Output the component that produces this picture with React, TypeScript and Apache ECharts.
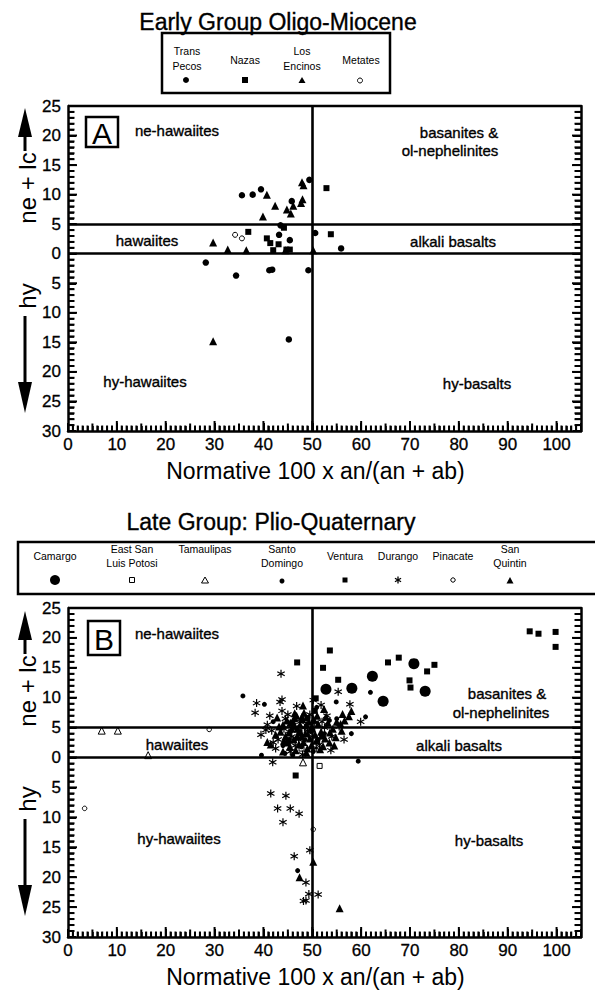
import { useEffect, useRef } from 'react';
import * as echarts from 'echarts';

const FONT = '"Liberation Sans", Arial, Helvetica, sans-serif';

// ---- axes ----
const xMin = 0;
const xMax = 105;
const xStep = 10;
const yMin = -30;
const yMax = 25;
const yStep = 5;
const dividerX = [50];
const dividerY = [5, 0];
const xAxisTitle = 'Normative 100 x an/(an + ab)';

// ---- panel A: Early Group Oligo-Miocene ----
const titleA = 'Early Group Oligo-Miocene';
const transPecos: [number, number][] = [
  [35.6, 9.9], [37.8, 10.0], [39.5, 10.9], [49.4, 12.5], [45.8, 8.9], [43.5, 4.8],
  [43.2, 3.2], [45.4, 2.3], [50.6, 3.5], [55.9, 0.9], [28.2, -1.5], [34.4, -3.7],
  [41.2, -2.8], [41.8, -2.7], [49.2, -2.8], [45.2, -14.5],
];
const nazas: [number, number][] = [
  [52.9, 11.1], [36.9, 3.7], [40.7, 2.6], [41.4, 1.8], [43.1, 1.6], [42.0, 0.6],
  [44.7, 0.7], [45.4, 0.7], [53.8, 3.3], [44.2, 4.4],
];
const losEncinos: [number, number][] = [
  [40.7, 10.0], [47.9, 12.1], [48.2, 11.6], [42.4, 8.1], [44.8, 7.5], [45.6, 6.8],
  [46.1, 8.1], [48.0, 9.2], [47.7, 8.6], [39.9, 6.3], [29.7, 1.9], [32.7, 0.7],
  [36.5, 0.6], [44.5, 0.6], [50.2, 0.6], [29.7, -14.8],
];
const metates: [number, number][] = [[34.2, 3.2], [35.6, 2.6]];

// ---- panel B: Late Group Plio-Quaternary ----
const titleB = 'Late Group: Plio-Quaternary';
const camargo: [number, number][] = [
  [52.8, 11.4], [58.1, 11.6], [62.3, 13.6], [64.5, 9.4], [70.8, 15.7], [73.1, 11.1],
];
const eastSanLuisPotosi: [number, number][] = [[51.5, -1.4], [47.8, 1.5], [45.0, 3.8]];
const tamaulipas: [number, number][] = [[6.9, 4.5], [10.2, 4.5], [16.4, 0.4], [48.1, -0.8]];
const santoDomingo: [number, number][] = [
  [35.8, 10.3], [40.2, 8.9], [61.9, 10.9], [54.9, 9.3], [60.9, 6.8], [58.0, 4.0],
  [59.4, -0.6], [39.6, 0.4], [44.4, 0.7], [47.0, -18.9], [50.9, 8.4], [42.0, 6.0],
  [46.5, 5.0], [52.5, 4.0], [53.5, 6.2], [50.2, 1.0], [55.0, 6.5], [48.5, 3.0], [44.0, 2.0],
  [45.6, 4.4], [47.8, 1.8], [49.6, 4.4], [51.2, 3.0], [46.0, 0.4],
];
const ventura: [number, number][] = [
  [46.9, 15.9], [53.6, 17.9], [52.2, 15.0], [55.3, 13.0], [65.5, 15.9], [67.7, 16.7],
  [69.9, 12.9], [70.1, 11.7], [73.5, 14.4], [75.0, 15.5], [50.7, 9.9], [94.5, 21.1],
  [96.3, 20.7], [99.8, 21.0], [99.8, 18.5], [46.6, -3.0], [45.1, 2.8], [50.5, 7.8], [52.0, 3.5],
  [47.4, 4.2], [49.0, 6.6],
];
const durango: [number, number][] = [
  [43.6, 14.0], [38.6, 9.1], [38.3, 7.5], [43.4, 9.3], [43.8, 9.7], [55.3, 11.0],
  [57.7, 8.9], [59.9, 6.0], [41.7, 4.5], [41.9, -0.8], [40.5, 4.6], [41.3, 7.0],
  [44.5, 6.5], [46.0, 5.5], [47.5, 6.0], [49.0, 4.5], [50.5, 5.8], [52.5, 5.0],
  [54.0, 3.5], [51.5, 2.2], [46.5, 2.0], [43.0, 3.0], [42.5, 1.5], [45.5, 1.0],
  [48.0, 0.5], [49.5, 7.2], [53.0, 7.0], [55.5, 5.2], [56.5, 3.0],
  [43.8, 7.8], [45.0, 7.2], [46.8, 8.6], [44.2, 4.8], [47.2, 3.0], [49.2, 3.8],
  [50.8, 1.6], [48.4, 5.0], [52.0, 6.0], [53.8, 1.2], [45.8, 3.5], [40.8, 5.5],
  [39.5, 3.8], [42.0, 2.5], [50.2, 9.6], [51.8, 8.8],
  [41.5, -6.0], [44.6, -6.4], [42.9, -8.5], [45.5, -8.5], [47.3, -9.4], [44.0, -10.8],
  [49.5, -15.5], [46.3, -16.5], [48.7, -20.9], [49.3, -22.8], [51.2, -22.9], [48.7, -23.9],
  [48.2, -24.0],
];
const pinacate: [number, number][] = [[3.4, -8.5], [28.9, 4.7], [50.2, -12.0]];
const sanQuintin: [number, number][] = [
  [48.1, 8.7], [40.8, 2.6], [47.4, -20.0], [50.2, -17.4], [55.6, -25.2], [57.5, 6.9],
  [58.0, 7.8], [52.4, 8.1], [56.2, 7.3], [42.8, 6.7], [46.4, 7.4], [48.0, 6.4], [52.2, 1.9],
  [44.0, 5.5], [45.2, 4.2], [46.0, 6.0], [47.0, 4.8], [47.8, 3.5], [48.8, 5.5], [49.5, 3.2],
  [50.0, 4.8], [51.2, 5.6], [51.8, 4.3], [53.2, 5.8], [54.2, 4.8], [55.0, 6.0], [53.5, 2.5],
  [46.2, 3.0], [44.5, 3.5], [43.5, 4.3], [45.5, 5.8], [47.3, 2.2], [49.0, 1.5], [50.8, 2.8],
  [52.8, 6.8], [41.5, 2.2], [54.5, 2.0], [56.0, 4.5], [48.3, 7.5], [46.8, 7.0], [51.0, 7.0],
  [47.5, 5.5], [45.0, 2.5],
  [44.8, 6.2], [45.8, 4.8], [46.3, 6.6], [46.9, 3.6], [47.6, 4.2], [48.2, 2.6], [48.6, 4.0],
  [49.3, 6.0], [49.8, 2.0], [45.4, 1.8], [44.2, 2.8], [43.2, 5.2], [42.5, 3.8], [50.6, 3.8],
  [51.6, 1.4], [52.6, 3.2], [53.6, 4.2], [54.8, 3.4], [55.8, 5.6], [56.6, 6.2], [46.6, 1.2],
  [48.8, 0.8], [47.9, 6.8], [50.3, 6.4], [44.0, 1.0], [49.9, 5.2],
];

// six-armed asterisk outline
const ASTERISK =
  'path://M57,100L43,100L43,62.12L10.2,81.06L3.2,68.94L36,50L3.2,31.06L10.2,18.94L43,37.88L43,0L57,0L57,37.88L89.8,18.94L96.8,31.06L64,50L96.8,68.94L89.8,81.06L57,62.12Z';

const GRIDS = [
  { left: 68, top: 106, width: 513, height: 325 },
  { left: 68, top: 608, width: 513, height: 329 },
];

// positions of the inward frame ticks (one per unit)
const unitTicksX: number[] = [];
for (let v = xMin + 1; v < xMax; v++) unitTicksX.push(v);
const unitTicksY: number[] = [];
for (let v = yMin + 1; v < yMax; v++) unitTicksY.push(v);

function font(size: number) {
  return `${size}px ${FONT}`;
}

function text(x: number, y: number, str: string, size: number, extra: any = {}) {
  return {
    type: 'text',
    x,
    y,
    silent: true,
    rotation: extra.rotation || 0,
    style: {
      text: str,
      fill: '#000',
      stroke: extra.heavy ? '#000' : undefined,
      lineWidth: extra.heavy ? 0.35 : 0,
      font: font(size),
      textAlign: 'center',
      textVerticalAlign: 'middle',
      align: 'center',
      verticalAlign: 'middle',
      lineHeight: extra.lineHeight,
    },
  };
}

function seg(x1: number, y1: number, x2: number, y2: number, w: number) {
  return { type: 'line', silent: true, z: 10, shape: { x1, y1, x2, y2 }, style: { stroke: '#000', lineWidth: w } };
}

function bar(x: number, y: number, w: number, h: number) {
  return { type: 'rect', silent: true, z: 10, shape: { x, y, width: w, height: h }, style: { fill: '#000' } };
}

function yAxisName(dy: number) {
  return [
    { type: 'polygon', silent: true, shape: { points: [[18, 137 + dy], [25, 108 + dy], [32, 137 + dy]] }, style: { fill: '#000' } },
    bar(23.5, 135 + dy, 3, 16),
    text(27, 188 + dy, 'ne + lc', 24, { rotation: Math.PI / 2 }),
    text(27, 296 + dy, 'hy', 24, { rotation: Math.PI / 2 }),
    bar(23.5, 316 + dy, 3, 68),
    { type: 'polygon', silent: true, shape: { points: [[18, 382 + dy], [25, 413 + dy], [32, 382 + dy]] }, style: { fill: '#000' } },
  ];
}

function letterBox(x: number, y: number, w: number, h: number, letter: string) {
  return [
    { type: 'rect', silent: true, shape: { x, y, width: w, height: h }, style: { fill: 'none', stroke: '#000', lineWidth: 2.5 } },
    text(x + w / 2, y + h / 2 + 1, letter, 30),
  ];
}

function asteriskMark(cx: number, cy: number, r: number) {
  const out: any[] = [];
  for (let k = 0; k < 3; k++) {
    const a = Math.PI / 2 + (k * Math.PI) / 3;
    out.push(seg(cx - r * Math.cos(a), cy - r * Math.sin(a), cx + r * Math.cos(a), cy + r * Math.sin(a), 1.3));
  }
  return out;
}

function scatter(name: string, data: [number, number][], g: number, symbol: string, size: number, filled: boolean) {
  return {
    type: 'scatter',
    name,
    data,
    xAxisIndex: g,
    yAxisIndex: g * 2,
    symbol,
    symbolSize: size,
    silent: true,
    z: 3,
    itemStyle: filled
      ? { color: '#000', opacity: 1 }
      : { color: '#fff', borderColor: '#000', borderWidth: 1, opacity: 1 },
  };
}

function dividers(g: number) {
  return {
    type: 'scatter',
    data: [],
    xAxisIndex: g,
    yAxisIndex: g * 2,
    silent: true,
    z: 2,
    markLine: {
      silent: true,
      symbol: 'none',
      label: { show: false },
      lineStyle: { color: '#000', width: 2.6, type: 'solid' },
      data: [...dividerX.map((v) => ({ xAxis: v })), ...dividerY.map((v) => ({ yAxis: v }))],
    },
  };
}

// inward tick marks along each frame, spaced on the same linear mapping as the axes
function frameTickElements() {
  const out: any[] = [];
  const W = 2;
  const bottomLen = (v: number) => (v % 10 === 0 ? 10 : v % 5 === 0 ? 7.5 : 5.5);
  const sideLen = (v: number) => (v % 5 === 0 ? 9 : 6.5);
  GRIDS.forEach((g) => {
    const px = (v: number) => g.left + ((v - xMin) / (xMax - xMin)) * g.width;
    const py = (v: number) => g.top + ((yMax - v) / (yMax - yMin)) * g.height;
    const bottom = g.top + g.height;
    const right = g.left + g.width;
    unitTicksX.forEach((v) => {
      const len = bottomLen(v);
      out.push(bar(px(v) - W / 2, bottom - len, W, len));
    });
    unitTicksY.forEach((v) => {
      const y = py(v);
      const len = sideLen(v);
      out.push(bar(g.left, y - W / 2, len, W));
      out.push(bar(right - len, y - W / 2, len, W));
    });
  });
  return out;
}

const LABEL_STYLE = {
  color: '#000',
  fontSize: 17,
  fontFamily: FONT,
  textBorderColor: '#000',
  textBorderWidth: 0.3,
};

function xAxis(g: number) {
  return {
    gridIndex: g,
    type: 'value',
    min: xMin,
    max: xMax,
    interval: xStep,
    position: 'bottom',
    axisLine: { show: true, onZero: false, lineStyle: { color: '#000', width: 2.5 } },
    axisTick: { show: true, inside: true, length: 8, lineStyle: { color: '#000', width: 2 } },
    minorTick: { show: true, splitNumber: 10, length: 5, lineStyle: { color: '#000', width: 1.6 } },
    splitLine: { show: false },
    axisLabel: {
      ...LABEL_STYLE,
      margin: 5,
      formatter: (v: number) => (v > 100 ? '' : String(v)),
    },
    name: xAxisTitle,
    nameLocation: 'middle',
    nameGap: 28,
    nameTextStyle: { color: '#000', fontSize: 23, fontFamily: FONT, padding: [0, 18, 0, 0] },
  };
}

function yAxis(g: number, side: 'left' | 'right') {
  return {
    gridIndex: g,
    type: 'value',
    min: yMin,
    max: yMax,
    interval: yStep,
    position: side,
    axisLine: { show: true, onZero: false, lineStyle: { color: '#000', width: 2.5 } },
    axisTick: { show: true, inside: true, length: 8, lineStyle: { color: '#000', width: 2 } },
    minorTick: { show: true, splitNumber: 5, length: 6, lineStyle: { color: '#000', width: 1.6 } },
    splitLine: { show: false },
    axisLabel: {
      ...LABEL_STYLE,
      show: side === 'left',
      margin: 7,
      formatter: (v: number) => String(Math.abs(v)),
    },
  };
}

function staticGraphics() {
  const H = { heavy: true };
  return [
    // titles
    text(278, 22, titleA, 23, H),
    text(271, 522, titleB, 23, H),

    // legend A
    { type: 'rect', silent: true, shape: { x: 162, y: 33, width: 228, height: 60 }, style: { fill: 'none', stroke: '#000', lineWidth: 2.5 } },
    text(187, 58, 'Trans\nPecos', 10.5, { lineHeight: 15 }),
    text(245, 60, 'Nazas', 10.5),
    text(302, 58, 'Los\nEncinos', 10.5, { lineHeight: 15 }),
    text(361, 60, 'Metates', 10.5),
    { type: 'circle', silent: true, shape: { cx: 186, cy: 80, r: 3 }, style: { fill: '#000' } },
    { type: 'rect', silent: true, shape: { x: 242, y: 77, width: 6, height: 6 }, style: { fill: '#000' } },
    { type: 'polygon', silent: true, shape: { points: [[298.5, 83], [302, 77], [305.5, 83]] }, style: { fill: '#000' } },
    { type: 'circle', silent: true, shape: { cx: 360, cy: 80.5, r: 2.5 }, style: { fill: '#fff', stroke: '#000', lineWidth: 1 } },

    // legend B
    { type: 'rect', silent: true, shape: { x: 18, y: 542, width: 600, height: 52 }, style: { fill: 'none', stroke: '#000', lineWidth: 2.5 } },
    text(55, 556, 'Camargo', 10.5),
    text(132, 556, 'East San\nLuis Potosi', 10.5, { lineHeight: 14 }),
    text(205, 549, 'Tamaulipas', 10.5),
    text(282, 556, 'Santo\nDomingo', 10.5, { lineHeight: 14 }),
    text(345, 556, 'Ventura', 10.5),
    text(398, 556, 'Durango', 10.5),
    text(453, 556, 'Pinacate', 10.5),
    text(510, 556, 'San\nQuintin', 10.5, { lineHeight: 14 }),
    { type: 'circle', silent: true, shape: { cx: 55, cy: 580, r: 5 }, style: { fill: '#000' } },
    { type: 'rect', silent: true, shape: { x: 129.5, y: 577.5, width: 5, height: 5 }, style: { fill: '#fff', stroke: '#000', lineWidth: 1 } },
    { type: 'polygon', silent: true, shape: { points: [[201.5, 583], [205, 577], [208.5, 583]] }, style: { fill: '#fff', stroke: '#000', lineWidth: 1 } },
    { type: 'circle', silent: true, shape: { cx: 282, cy: 581, r: 2.5 }, style: { fill: '#000' } },
    { type: 'rect', silent: true, shape: { x: 342.5, y: 577.5, width: 5, height: 5 }, style: { fill: '#000' } },
    ...asteriskMark(398, 580, 3.5),
    { type: 'circle', silent: true, shape: { cx: 453, cy: 580, r: 2.2 }, style: { fill: '#fff', stroke: '#000', lineWidth: 1 } },
    { type: 'polygon', silent: true, shape: { points: [[506.5, 583.5], [510, 577], [513.5, 583.5]] }, style: { fill: '#000' } },

    // panel letters
    ...letterBox(86, 117, 32, 30, 'A'),
    ...letterBox(88, 621, 32, 34, 'B'),

    // field names, panel A
    text(177, 130, 'ne-hawaiites', 15, H),
    text(147, 240, 'hawaiites', 15, H),
    text(145, 381, 'hy-hawaiites', 15, H),
    text(459, 132, 'basanites &', 15, H),
    text(450, 150, 'ol-nephelinites', 15, H),
    text(453, 241, 'alkali basalts', 15, H),
    text(477, 383, 'hy-basalts', 15, H),

    // field names, panel B
    text(177, 633, 'ne-hawaiites', 15, H),
    text(177, 744, 'hawaiites', 15, H),
    text(179, 838, 'hy-hawaiites', 15, H),
    text(507, 693, 'basanites &', 15, H),
    text(501, 712, 'ol-nephelinites', 15, H),
    text(459, 745, 'alkali basalts', 15, H),
    text(489, 840, 'hy-basalts', 15, H),

    // y-axis names with arrows
    ...yAxisName(0),
    ...yAxisName(503),

    // frame ticks
    ...frameTickElements(),
  ];
}

function buildOption() {
  return {
    animation: false,
    backgroundColor: '#fff',
    textStyle: { fontFamily: FONT },
    grid: GRIDS.map((g) => ({ ...g, show: false, containLabel: false })),
    xAxis: [xAxis(0), xAxis(1)],
    yAxis: [yAxis(0, 'left'), yAxis(0, 'right'), yAxis(1, 'left'), yAxis(1, 'right')],
    series: [
      dividers(0),
      scatter('Trans Pecos', transPecos, 0, 'circle', 6.5, true),
      scatter('Nazas', nazas, 0, 'rect', 6, true),
      scatter('Los Encinos', losEncinos, 0, 'triangle', 8, true),
      scatter('Metates', metates, 0, 'circle', 5, false),

      dividers(1),
      scatter('Camargo', camargo, 1, 'circle', 11, true),
      scatter('East San Luis Potosi', eastSanLuisPotosi, 1, 'rect', 5, false),
      scatter('Tamaulipas', tamaulipas, 1, 'triangle', 7, false),
      scatter('Santo Domingo', santoDomingo, 1, 'circle', 5, true),
      scatter('Ventura', ventura, 1, 'rect', 6, true),
      scatter('Durango', durango, 1, ASTERISK, 8, true),
      scatter('Pinacate', pinacate, 1, 'circle', 4.5, false),
      scatter('San Quintin', sanQuintin, 1, 'triangle', 8, true),
    ],
    graphic: {
      elements: [
        ...staticGraphics(),
        // top edge of each frame
        ...GRIDS.map((g) => ({
          type: 'line',
          silent: true,
          shape: { x1: g.left, y1: g.top, x2: g.left + g.width, y2: g.top },
          style: { stroke: '#000', lineWidth: 2.5 },
        })),
      ],
    },
  };
}

export default function App() {
  const ref = useRef<HTMLDivElement | null>(null);
  useEffect(() => {
    if (!ref.current) return;
    const chart = echarts.init(ref.current, undefined, { renderer: 'svg' });
    chart.setOption(buildOption() as any);
    return () => chart.dispose();
  }, []);
  return (
    <div
      ref={ref}
      style={{ position: 'absolute', left: 0, top: 0, width: 595, height: 992, background: '#fff' }}
    />
  );
}
